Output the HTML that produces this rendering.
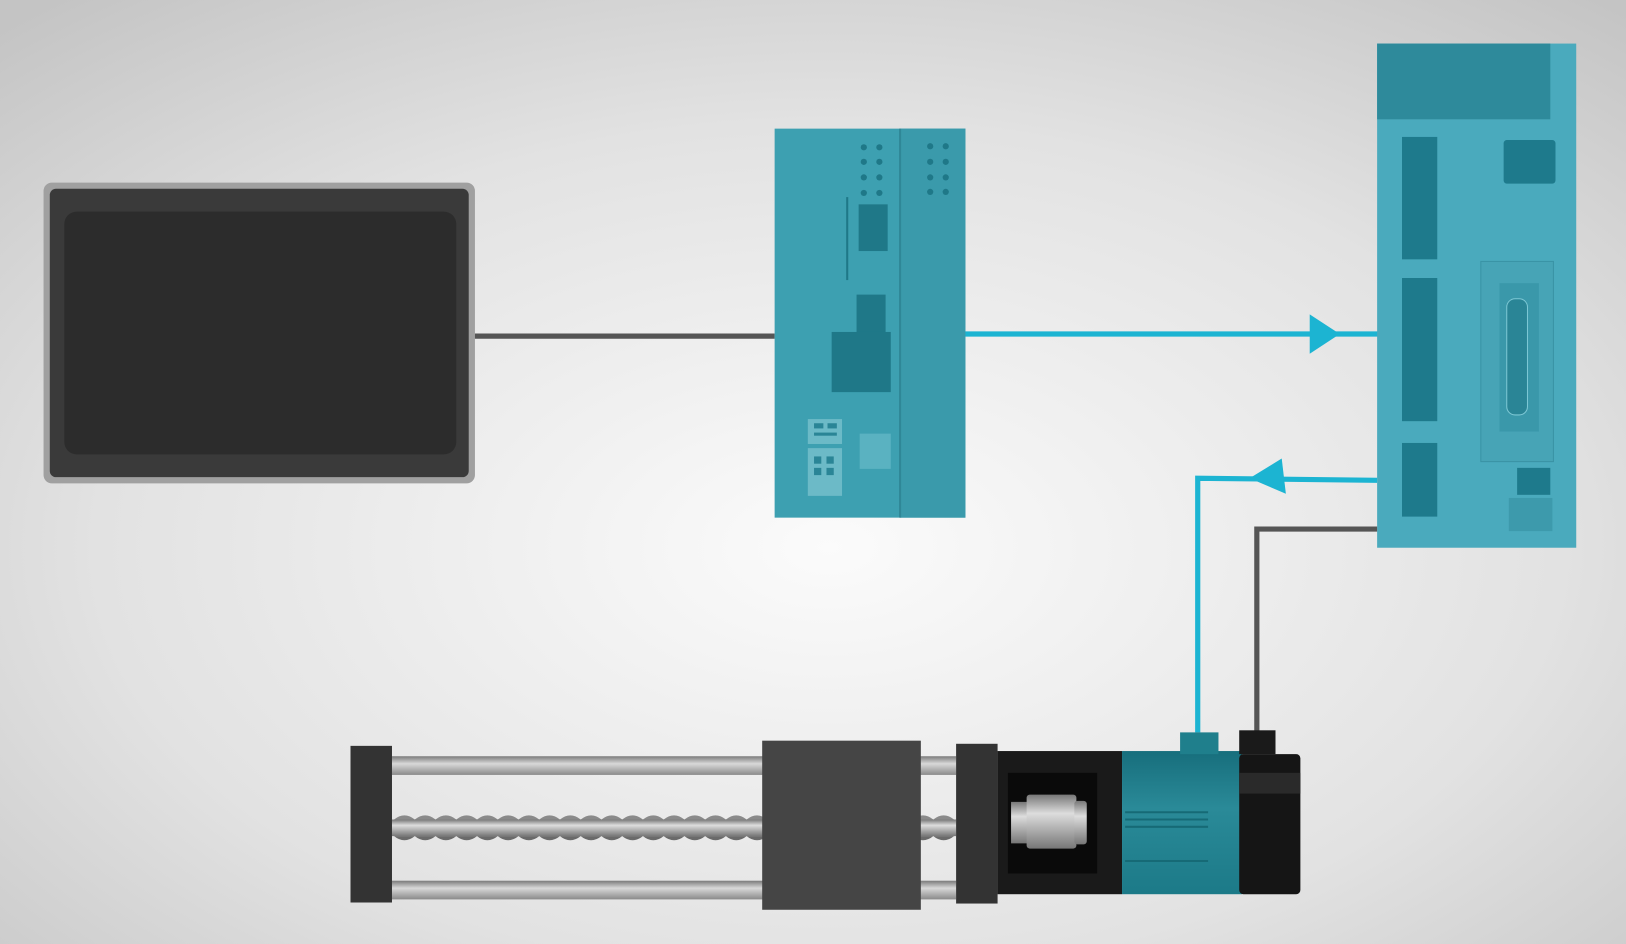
<!DOCTYPE html>
<html><head><meta charset="utf-8"><style>
html,body{margin:0;padding:0;width:1626px;height:944px;overflow:hidden}
svg{display:block}
</style></head><body>
<svg width="1626" height="944" viewBox="0 0 1568 910" preserveAspectRatio="none" xmlns="http://www.w3.org/2000/svg">
<defs>
<radialGradient id="bg" cx="0.51" cy="0.58" r="0.75">
<stop offset="0" stop-color="#fbfbfb"/><stop offset="0.6" stop-color="#e2e2e2"/><stop offset="1" stop-color="#c4c4c4"/>
</radialGradient>
<linearGradient id="rod" x1="0" y1="0" x2="0" y2="1">
<stop offset="0" stop-color="#7a7a7a"/><stop offset="0.4" stop-color="#d8d8d8"/><stop offset="1" stop-color="#8a8a8a"/>
</linearGradient>
<linearGradient id="cyl" x1="0" y1="0" x2="0" y2="1">
<stop offset="0" stop-color="#777"/><stop offset="0.35" stop-color="#ddd"/><stop offset="1" stop-color="#777"/>
</linearGradient>
<linearGradient id="mot" x1="0" y1="0" x2="0" y2="1">
<stop offset="0" stop-color="#176e7c"/><stop offset="0.4" stop-color="#2a8a98"/><stop offset="1" stop-color="#1c7a88"/>
</linearGradient>
</defs>
<rect width="1568" height="910" fill="url(#bg)"/>
<!-- HMI -->
<rect x="42" y="176" width="416" height="290" rx="8" fill="#a0a0a0"/>
<rect x="48" y="182" width="404" height="278" rx="6" fill="#3a3a3a"/>
<rect x="62" y="204" width="378" height="234" rx="12" fill="#2c2c2c"/>
<line x1="458" y1="324" x2="747" y2="324" stroke="#555" stroke-width="5"/>
<!-- PLC -->
<rect x="747" y="124" width="184" height="375" fill="#3da0b1"/>
<rect x="868" y="124" width="63" height="375" fill="#3a9aab"/>
<line x1="868" y1="124" x2="868" y2="499" stroke="#2f8797" stroke-width="2"/>
<g fill="#1f7888">
<circle cx="833" cy="142" r="3"/><circle cx="848" cy="142" r="3"/><circle cx="833" cy="156" r="3"/><circle cx="848" cy="156" r="3"/><circle cx="833" cy="171" r="3"/><circle cx="848" cy="171" r="3"/><circle cx="833" cy="186" r="3"/><circle cx="848" cy="186" r="3"/>
<circle cx="897" cy="141" r="3"/><circle cx="912" cy="141" r="3"/><circle cx="897" cy="156" r="3"/><circle cx="912" cy="156" r="3"/><circle cx="897" cy="171" r="3"/><circle cx="912" cy="171" r="3"/><circle cx="897" cy="185" r="3"/><circle cx="912" cy="185" r="3"/>
<rect x="828" y="197" width="28" height="45"/>
<rect x="826" y="284" width="28" height="40"/>
<rect x="802" y="320" width="57" height="58"/>
<rect x="816" y="190" width="2" height="80"/>
</g>
<rect x="779" y="404" width="33" height="24" fill="#6cbac7"/>
<rect x="779" y="432" width="33" height="46" fill="#6cbac7"/>
<g fill="#2a8596"><rect x="785" y="408" width="9" height="5"/><rect x="798" y="408" width="9" height="5"/><rect x="785" y="417" width="22" height="3"/><rect x="785" y="440" width="7" height="7"/><rect x="797" y="440" width="7" height="7"/><rect x="785" y="451" width="7" height="7"/><rect x="797" y="451" width="7" height="7"/></g>
<rect x="829" y="418" width="30" height="34" fill="#5ab2c1"/>
<!-- cyan arrow to driver -->
<line x1="931" y1="322" x2="1330" y2="322" stroke="#1cb4d2" stroke-width="5"/>
<polygon points="1263,303 1292,322 1263,341" fill="#1cb4d2"/>
<!-- Driver -->
<rect x="1328" y="42" width="192" height="486" fill="#4aaabd"/>
<rect x="1328" y="42" width="167" height="73" fill="#2e8a9b"/>
<g fill="#1e7a8c">
<rect x="1352" y="132" width="34" height="118"/>
<rect x="1352" y="268" width="34" height="138"/>
<rect x="1352" y="427" width="34" height="71"/>
<rect x="1450" y="135" width="50" height="42" rx="3"/>
<rect x="1463" y="451" width="32" height="26"/>
</g>
<rect x="1428" y="252" width="70" height="193" fill="#47a4b6" stroke="#3a93a5"/>
<rect x="1446" y="273" width="38" height="143" fill="#3a98aa"/>
<rect x="1453" y="288" width="20" height="112" rx="8" fill="#2a8596" stroke="#7cc7d4"/>
<rect x="1455" y="480" width="42" height="32" fill="#3d9aac"/>
<!-- return cyan -->
<polyline points="1328,463 1155,461 1155,706" fill="none" stroke="#1cb4d2" stroke-width="5"/>
<polygon points="1205,461 1236,442 1240,476" fill="#1cb4d2"/>
<!-- gray power -->
<polyline points="1328,510 1212,510 1212,706" fill="none" stroke="#555" stroke-width="5"/>
<!-- Actuator -->
<rect x="378" y="729" width="544" height="18" fill="url(#rod)"/>
<rect x="378" y="849" width="544" height="18" fill="url(#rod)"/>
<rect x="378" y="790" width="544" height="16" fill="url(#cyl)"/>
<path d="M380,790 q10,-8 20,0 q10,-8 20,0 q10,-8 20,0 q10,-8 20,0 q10,-8 20,0 q10,-8 20,0 q10,-8 20,0 q10,-8 20,0 q10,-8 20,0 q10,-8 20,0 q10,-8 20,0 q10,-8 20,0 q10,-8 20,0 q10,-8 20,0 q10,-8 20,0 q10,-8 20,0 q10,-8 20,0 q10,-8 20,0 q10,-8 20,0 q10,-8 20,0 q10,-8 20,0 q10,-8 20,0 q10,-8 20,0 q10,-8 20,0 q10,-8 20,0 q10,-8 20,0 q10,-8 20,0 L920,790 Z" fill="#8a8a8a"/>
<path d="M380,806 q10,8 20,0 q10,8 20,0 q10,8 20,0 q10,8 20,0 q10,8 20,0 q10,8 20,0 q10,8 20,0 q10,8 20,0 q10,8 20,0 q10,8 20,0 q10,8 20,0 q10,8 20,0 q10,8 20,0 q10,8 20,0 q10,8 20,0 q10,8 20,0 q10,8 20,0 q10,8 20,0 q10,8 20,0 q10,8 20,0 q10,8 20,0 q10,8 20,0 q10,8 20,0 q10,8 20,0 q10,8 20,0 q10,8 20,0 q10,8 20,0 L920,806 Z" fill="#6a6a6a"/>
<rect x="338" y="719" width="40" height="151" fill="#333"/>
<rect x="735" y="714" width="153" height="163" fill="#454545"/>
<rect x="922" y="717" width="40" height="154" fill="#333"/>
<rect x="962" y="724" width="120" height="138" fill="#1a1a1a"/>
<rect x="972" y="745" width="86" height="97" fill="#0a0a0a"/>
<rect x="975" y="773" width="18" height="40" fill="url(#cyl)"/>
<rect x="990" y="766" width="48" height="52" rx="3" fill="url(#cyl)"/>
<rect x="1036" y="772" width="12" height="42" rx="3" fill="url(#cyl)"/>
<rect x="1082" y="724" width="116" height="138" fill="url(#mot)"/>
<g stroke="#166a76" stroke-width="2"><line x1="1085" y1="783" x2="1165" y2="783"/><line x1="1085" y1="790" x2="1165" y2="790"/><line x1="1085" y1="797" x2="1165" y2="797"/><line x1="1085" y1="830" x2="1165" y2="830"/></g>
<rect x="1195" y="727" width="59" height="135" rx="4" fill="#151515"/>
<rect x="1195" y="745" width="59" height="20" fill="#2a2a2a"/>
<rect x="1138" y="706" width="37" height="21" fill="#1f7f8c"/>
<rect x="1195" y="704" width="35" height="23" fill="#1a1a1a"/>
</svg>
</body></html>
